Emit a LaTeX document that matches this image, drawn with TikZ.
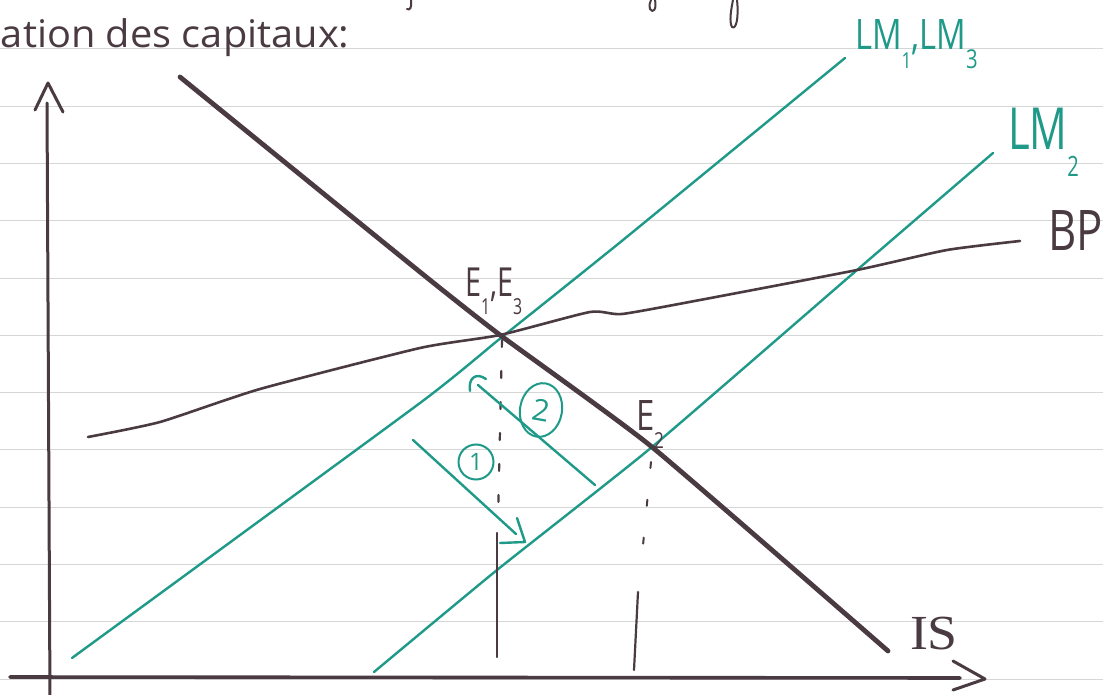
\documentclass[tikz,border=0pt]{standalone}
\usepackage{fontspec}
\setmainfont{Open Sans}
\newfontfamily\serifhand{Liberation Serif}
\usetikzlibrary{shapes.geometric}
\definecolor{inkc}{HTML}{4A3A42}
\definecolor{tealc}{HTML}{1F9A88}
\definecolor{rulec}{HTML}{D6D6D6}
\newcommand\lowsub[2]{\raisebox{-0.45em}{\fontsize{#1}{#1}\selectfont #2}}
\begin{document}
\begin{tikzpicture}[x=1pt,y=-1pt,
  rule/.style={draw=rulec, line width=0.8pt},
  ink/.style={draw=inkc, line cap=round, line join=round},
  isline/.style={ink, line width=4.8pt},
  bpline/.style={ink, line width=2.6pt},
  axisline/.style={ink, line width=3pt},
  lmline/.style={draw=tealc, line width=2.4pt, line cap=round, line join=round},
  guide/.style={ink, line width=2.2pt},
  hand/.style={inner sep=0pt, outer sep=0pt},
  inktext/.style={hand, text=inkc},
  tealtext/.style={hand, text=tealc},
  numcirc/.style={draw=tealc, line width=2pt, inner sep=0pt, text=tealc}]
\path[use as bounding box, fill=white] (0,0) rectangle (1103,695);
\clip (0,0) rectangle (1103,695);
% ruled paper
\foreach \k in {0,...,11} \draw[rule] (0,{48.7+57.3*\k}) -- (1103,{48.7+57.3*\k});
% fragments of the line above
\draw[ink, line width=2pt] (411,0) .. controls (412,7) and (410,11) .. (407,9);
\draw[ink, line width=2pt] (655,0) .. controls (657,9) and (653,14) .. (650,9) .. controls (649,5) and (650,2) .. (651,0);
\draw[ink, line width=2pt] (737,0) .. controls (739,18) and (736,30) .. (732,27) .. controls (729,22) and (731,10) .. (733,0);
% title fragment
\node[inktext, anchor=base west] (title) at (1,48) {\scalebox{1.17}[1.12]{\fontsize{34}{34}\selectfont ation des capitaux:}};
% axes
\coordinate (ytop) at (47,103);
\coordinate (ybot) at (50,700);
\coordinate (xleft) at (10,677);
\coordinate (xright) at (960,678);
\draw[axisline] (ybot) -- (ytop);
\draw[axisline] (35,110) -- (48,83) -- (63,112);
\draw[axisline, line width=3.6pt] (xleft) -- (xright);
\draw[axisline] (953,661) -- (985,679) -- (953,690);
% key points
\coordinate (E1) at (500,335);
\coordinate (E2) at (652,447);
% LM1, LM3
\coordinate (LMa0) at (72,658);
\coordinate (LMa1) at (845,58);
\draw[lmline] plot[smooth, tension=0.3] coordinates {(LMa0) (420,403) (502,337) (623,240) (LMa1)};
% LM2
\coordinate (LMb0) at (374,672);
\coordinate (LMb1) at (993,153);
\draw[lmline] plot[smooth, tension=0.3] coordinates {(LMb0) (497,570) (E2) (857,270) (LMb1)};
% BP
\coordinate (BP0) at (88,437);
\coordinate (BP1) at (1020,241);
\draw[bpline] plot[smooth, tension=0.35] coordinates {(BP0) (160,422) (260,389) (420,348) (E1) (590,312) (622,314) (700,300) (857,270) (947,250) (BP1)};
% IS
\coordinate (IS0) at (180,77);
\coordinate (IS1) at (888,651);
\draw[isline] plot[smooth, tension=0.3] coordinates {(IS0) (420,272) (E1) (E2) (IS1)};
% guides from E1
\coordinate (E1a) at (502,340);
\coordinate (E1b) at (498,520);
\coordinate (E1c) at (497,533);
\coordinate (E1d) at (497,657);
\draw[guide, dash pattern=on 7pt off 24pt] (E1a) -- (E1b);
\draw[guide] (E1c) -- (E1d);
% guides from E2
\coordinate (E2a) at (651,462);
\coordinate (E2b) at (641,566);
\coordinate (E2c) at (638,592);
\coordinate (E2d) at (634,670);
\draw[guide, line width=2pt, dash pattern=on 6pt off 32pt] (E2a) -- (E2b);
\draw[guide] (E2c) -- (E2d);
% arrows
\coordinate (A1s) at (413,440);
\coordinate (A1e) at (516,534);
\draw[lmline] (A1s) -- (A1e);
\draw[lmline] (517,518) -- (525,542) -- (500,543);
\coordinate (A2s) at (595,485);
\coordinate (A2e) at (478,385);
\draw[lmline] (A2s) -- (A2e);
\draw[lmline] (470,391) .. controls (468,378) and (476,372) .. (486,379);
% circled numbers
\node[numcirc, circle, minimum size=35pt] (n1) at (476,462) {\fontsize{24}{24}\selectfont 1};
\node[numcirc, ellipse, minimum width=42pt, minimum height=54pt, rotate=-10] (n2) at (541,410) {\fontsize{30}{30}\selectfont 2};
% labels
\node[tealtext, anchor=base west] (lLM13) at (855,50) {\scalebox{0.78}[1]{\fontsize{42}{42}\selectfont LM\lowsub{22}{1},LM\lowsub{26}{3}}};
\node[tealtext, anchor=base west] (lLM2) at (1008,150) {\scalebox{0.72}[1]{\fontsize{58}{58}\selectfont LM\lowsub{28}{2}}};
\node[inktext, anchor=base west] (lBP) at (1048,251) {\scalebox{0.78}[1]{\fontsize{56}{56}\selectfont BP}};
\node[inktext, anchor=base west] (lIS) at (910,649) {\scalebox{1.1}[1]{\fontsize{49}{49}\selectfont\serifhand IS}};
\node[inktext, anchor=base west] (lE1) at (465,296) {\scalebox{0.72}[1]{\fontsize{40}{40}\selectfont E\lowsub{22}{1},E\lowsub{22}{3}}};
\node[inktext, anchor=base west] (lE2) at (636,430) {\scalebox{0.78}[1]{\fontsize{42}{42}\selectfont E\lowsub{22}{2}}};
\end{tikzpicture}
\end{document}
